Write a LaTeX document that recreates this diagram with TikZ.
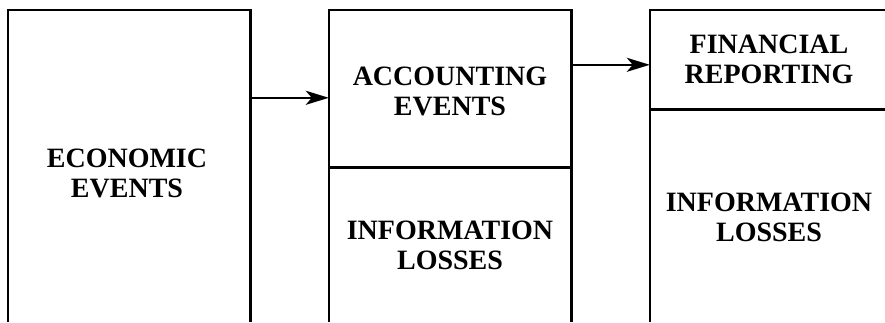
\documentclass[tikz,border=0pt]{standalone}
\usepackage{fontspec}
\setmainfont{Liberation Serif}
\usetikzlibrary{arrows.meta}
\begin{document}
\begin{tikzpicture}[x=1pt,y=-1pt,
  frame/.style={rectangle,inner sep=0pt,minimum width=242pt},
  txt/.style={inner sep=0pt,align=center,font=\fontsize{28}{30}\selectfont\bfseries},
  edge/.style={line width=2.6pt,line cap=rect},
  arr/.style={line width=2.3pt,-{Stealth[length=23pt,width=14pt,inset=6pt]}}]
\clip (0,0) rectangle (885,322);
% frames
\node[frame,minimum height=310pt] (econ) at (129,165) {};
\node[frame,minimum height=157pt] (acc) at (450,88.5) {};
\node[frame,minimum height=153pt] (loss2) at (450,243.5) {};
\node[frame,minimum height=99pt] (fin) at (771,59.5) {};
\node[frame,minimum height=211pt] (loss3) at (771,214.5) {};
% texts
\node[txt] (econT) at (127,173) {ECONOMIC\\EVENTS};
\node[txt] (accT) at (450,91) {ACCOUNTING\\EVENTS};
\node[txt] (loss2T) at (450,245) {INFORMATION\\LOSSES};
\node[txt] (finT) at (769,59) {FINANCIAL\\REPORTING};
\node[txt] (loss3T) at (769,217.5) {INFORMATION\\LOSSES};
% borders
\draw[edge] (econ.south west) -- (econ.north west) -- (econ.north east) -- (econ.south east);
\draw[edge] (loss2.south west) -- (acc.north west) -- (acc.north east) -- (loss2.south east);
\draw[edge] (acc.south west) -- (acc.south east);
\draw[edge] (loss3.south west) -- (fin.north west) -- (fin.north east) -- (loss3.south east);
\draw[edge] (fin.south west) -- (fin.south east);
% arrows
\draw[arr] ([yshift=-88pt]econ.north east) -- ([yshift=-88pt]acc.north west);
\draw[arr] ([yshift=-55pt]acc.north east) -- ([yshift=-55pt]fin.north west);
\end{tikzpicture}
\end{document}
